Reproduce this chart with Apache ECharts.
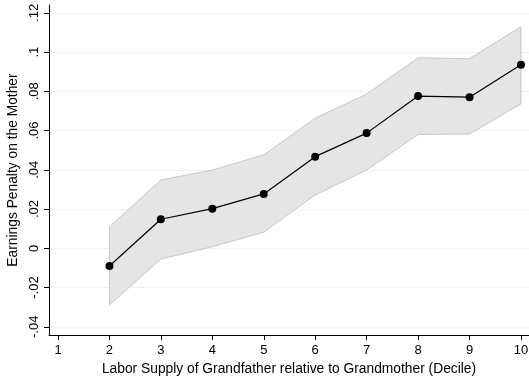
<!DOCTYPE html>
<html><head><meta charset="utf-8">
<script src="https://cdn.jsdelivr.net/npm/echarts@6/dist/echarts.min.js"></script>
<style>html,body{margin:0;padding:0;background:#fff}#c{width:529px;height:376px}</style>
</head><body><div id="c"></div>
<script>
const deciles = [2, 3, 4, 5, 6, 7, 8, 9, 10];
const estimate = [-0.0090, 0.0148, 0.0202, 0.0277, 0.0467, 0.0587, 0.0776, 0.0770, 0.0935];
const upperCI = [0.0110, 0.0348, 0.0399, 0.0476, 0.0663, 0.0786, 0.0971, 0.0966, 0.1130];
const lowerCI = [-0.0289, -0.0055, 0.0008, 0.0082, 0.0272, 0.0399, 0.0580, 0.0583, 0.0736];
const xTicks = [1, 2, 3, 4, 5, 6, 7, 8, 9, 10];
const yTicks = [-0.04, -0.02, 0, 0.02, 0.04, 0.06, 0.08, 0.1, 0.12];
const xTitle = 'Labor Supply of Grandfather relative to Grandmother (Decile)';
const yTitle = 'Earnings Penalty on the Mother';

function fmt(v) {
  if (Math.abs(v) < 1e-9) return '0';
  let s = String(+v.toFixed(2));
  return s.replace('0.', '.');
}
const font = 'Liberation Sans, Arial, sans-serif';
const chart = echarts.init(document.getElementById('c'), null, {renderer: 'canvas'});
chart.setOption({
  animation: false,
  grid: {left: 49, right: 0, top: 5, bottom: 41, containLabel: false, outerBoundsMode: 'none'},
  xAxis: {
    type: 'value', min: 0.825, max: 10.156,
    name: xTitle, nameLocation: 'middle', nameGap: 18,
    nameTextStyle: {fontFamily: font, fontSize: 13.8, color: '#000'},
    axisLine: {show: true, onZero: false, lineStyle: {color: '#000', width: 1}},
    axisTick: {show: true, length: 5, customValues: xTicks, lineStyle: {color: '#000'}},
    axisLabel: {customValues: xTicks, fontFamily: font, fontSize: 13, color: '#000', margin: 9, formatter: v => String(v)},
    splitLine: {show: false}
  },
  yAxis: {
    type: 'value', min: -0.0442, max: 0.124,
    name: yTitle, nameLocation: 'middle', nameGap: 22, nameRotate: 90,
    nameTextStyle: {fontFamily: font, fontSize: 13.8, color: '#000'},
    axisLine: {show: true, onZero: false, lineStyle: {color: '#000', width: 1}},
    axisTick: {show: true, length: 5, customValues: yTicks, lineStyle: {color: '#000'}},
    axisLabel: {customValues: yTicks, rotate: 90, fontFamily: font, fontSize: 13, color: '#000', margin: 8, formatter: fmt},
    splitLine: {show: true, lineStyle: {color: '#eaf2f3', width: 1}}
  },
  series: [
    {
      type: 'custom', z: 1,
      data: deciles.map((d, i) => [d, lowerCI[i], upperCI[i]]),
      renderItem: function (params, api) {
        if (params.dataIndex !== 0) return;
        const pts = [];
        for (let i = 0; i < deciles.length; i++) pts.push(api.coord([deciles[i], upperCI[i]]));
        for (let i = deciles.length - 1; i >= 0; i--) pts.push(api.coord([deciles[i], lowerCI[i]]));
        return {type: 'polygon', shape: {points: pts}, style: {fill: '#e5e5e5', stroke: '#c6c6c6', lineWidth: 1}};
      },
      silent: true
    },
    {
      type: 'line', z: 3,
      data: deciles.map((d, i) => [d, estimate[i]]),
      symbol: 'circle', symbolSize: 8,
      itemStyle: {color: '#000'},
      lineStyle: {color: '#000', width: 1.2}
    }
  ]
});
</script></body></html>
